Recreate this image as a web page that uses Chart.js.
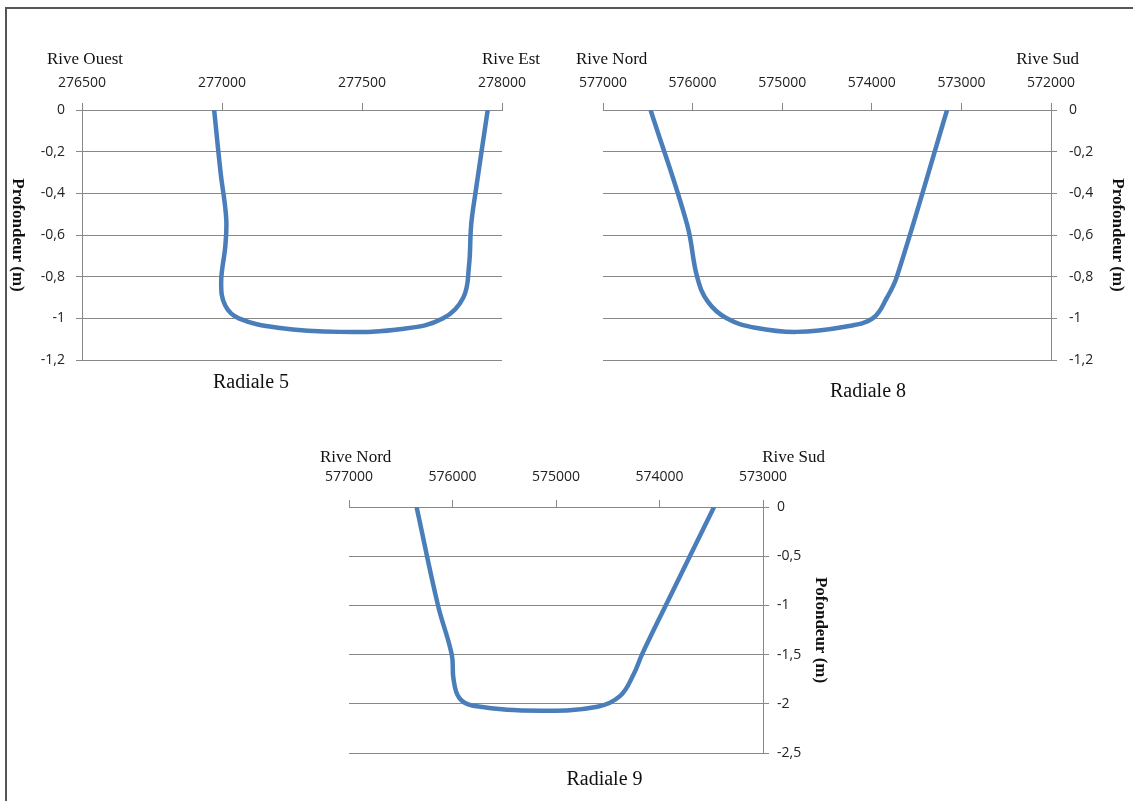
<!DOCTYPE html>
<html>
<head>
<meta charset="utf-8">
<script src="https://cdn.jsdelivr.net/npm/chart.js@4/dist/chart.umd.min.js"></script>
<style>
  body { margin: 0; background: #fff; }
  #page { position: relative; width: 1133px; height: 801px; overflow: hidden; }
  #frame { position: absolute; left: 5px; top: 7px; right: -10px; bottom: -10px;
           border-top: 2px solid #555; border-left: 2px solid #555; }
  canvas { position: absolute; }
</style>
</head>
<body>
<div id="page">
  <div id="frame"></div>
  <canvas id="r5" width="560" height="410" style="left:0;top:0"></canvas>
  <canvas id="r8" width="573" height="410" style="left:560px;top:0"></canvas>
  <canvas id="r9" width="560" height="380" style="left:300px;top:420px"></canvas>
</div>
<script>
// Radiale 5 (X in m, depth in m)
const r5X = [276972, 276995, 277015, 277012, 276997, 277012, 277060, 277200, 277420, 277650, 277790, 277862, 277882, 277890, 277905, 277949];
const r5Depth = [0, -0.3, -0.52, -0.65, -0.83, -0.94, -1.0, -1.045, -1.065, -1.05, -1.0, -0.9, -0.75, -0.55, -0.4, 0];

// Radiale 8
const r8X = [576469, 576061, 575950, 575830, 575620, 575300, 574840, 574300, 573990, 573830, 573720, 573160];
const r8Depth = [0, -0.55, -0.8, -0.92, -1.0, -1.045, -1.065, -1.04, -1.0, -0.9, -0.8, 0];

// Radiale 9
const r9X = [576347, 576140, 576007, 575990, 575935, 575800, 575140, 574600, 574380, 574250, 574170, 573940, 573473];
const r9Depth = [0, -1.0, -1.5, -1.75, -1.94, -2.02, -2.07, -2.03, -1.92, -1.7, -1.5, -1.0, 0];

const BLUE = "#4a7ebb";
const GRID = "#888888";
const tickFont = { family: "'Open Sans', sans-serif", size: 14 };
const serif = "'Liberation Serif', 'Times New Roman', serif";

const commaFmt = v => String(Math.round(v * 10) / 10).replace(".", ",");

// bank names, vertical axis title
const annotate = {
  id: "annotate",
  afterDraw(chart, args, o) {
    const ctx = chart.ctx;
    const a = chart.chartArea;
    ctx.save();
    ctx.fillStyle = "#111";
    ctx.font = "17px " + serif;
    ctx.textBaseline = "middle";
    ctx.textAlign = "left";
    ctx.fillText(o.left, o.leftX, o.bankY);
    ctx.textAlign = "right";
    ctx.fillText(o.right, o.rightX, o.bankY);
    ctx.translate(o.titleX, (a.top + a.bottom) / 2);
    ctx.rotate(Math.PI / 2);
    ctx.font = "bold 17px " + serif;
    ctx.textAlign = "center";
    ctx.fillText(o.side, 0, 0);
    ctx.restore();
  }
};

function makeChart(id, xs, ys, cfg) {
  new Chart(document.getElementById(id), {
    type: "scatter",
    data: {
      datasets: [{
        data: xs.map((x, i) => ({ x, y: ys[i] })),
        showLine: true,
        borderColor: BLUE,
        borderWidth: 4.5,
        pointRadius: 0,
        tension: 0.4
      }]
    },
    options: {
      responsive: false,
      animation: false,
      layout: { padding: cfg.padding },
      scales: {
        x: {
          type: "linear",
          position: "top",
          min: cfg.xMin, max: cfg.xMax,
          reverse: cfg.reverse,
          afterFit: s => { s.height = cfg.xHeight; },
          grid: { drawOnChartArea: false, color: GRID, tickLength: 7 },
          border: { color: GRID },
          ticks: { stepSize: cfg.xStep, font: tickFont, color: "#222", padding: cfg.xPad, maxRotation: 0,
                   callback: v => String(v) }
        },
        y: {
          position: cfg.yPos,
          min: cfg.yMin, max: 0,
          afterFit: s => { s.width = cfg.yWidth; },
          grid: { color: GRID, tickLength: 6 },
          border: { color: GRID },
          ticks: { stepSize: cfg.yStep, font: tickFont, color: "#222", padding: cfg.yPad,
                   callback: commaFmt }
        }
      },
      plugins: {
        legend: { display: false },
        tooltip: { enabled: false },
        title: {
          display: true, position: "bottom", text: cfg.title, color: "#111",
          font: { family: serif, size: 20, weight: "normal" },
          padding: cfg.titlePad
        },
        annotate: cfg.notes
      }
    },
    plugins: [annotate]
  });
}

makeChart("r5", r5X, r5Depth, {
  padding: { left: 0, right: 58, top: 0, bottom: 0 },
  xMin: 276500, xMax: 278000, xStep: 500, reverse: false, xHeight: 110, xPad: 12,
  yPos: "left", yMin: -1.2, yStep: 0.2, yWidth: 82, yPad: 11,
  title: "Radiale 5", titlePad: { top: 11, bottom: 15 },
  notes: { left: "Rive Ouest", leftX: 47, right: "Rive Est", rightX: 540, bankY: 60,
           side: "Profondeur (m)", titleX: 17 }
});

makeChart("r8", r8X, r8Depth, {
  padding: { left: 43, right: 0, top: 0, bottom: 0 },
  xMin: 572000, xMax: 577000, xStep: 1000, reverse: true, xHeight: 110, xPad: 12,
  yPos: "right", yMin: -1.2, yStep: 0.2, yWidth: 82, yPad: 12,
  title: "Radiale 8", titlePad: { top: 20, bottom: 6 },
  notes: { left: "Rive Nord", leftX: 16, right: "Rive Sud", rightX: 519, bankY: 60,
           side: "Profondeur (m)", titleX: 557 }
});

makeChart("r9", r9X, r9Depth, {
  padding: { left: 49, right: 0, top: 0, bottom: 0 },
  xMin: 573000, xMax: 577000, xStep: 1000, reverse: true, xHeight: 87, xPad: 15,
  yPos: "right", yMin: -2.5, yStep: 0.5, yWidth: 97, yPad: 8,
  title: "Radiale 9", titlePad: { top: 15, bottom: 8 },
  notes: { left: "Rive Nord", leftX: 20, right: "Rive Sud", rightX: 525, bankY: 38,
           side: "Pofondeur (m)", titleX: 520 }
});
</script>
</body>
</html>
